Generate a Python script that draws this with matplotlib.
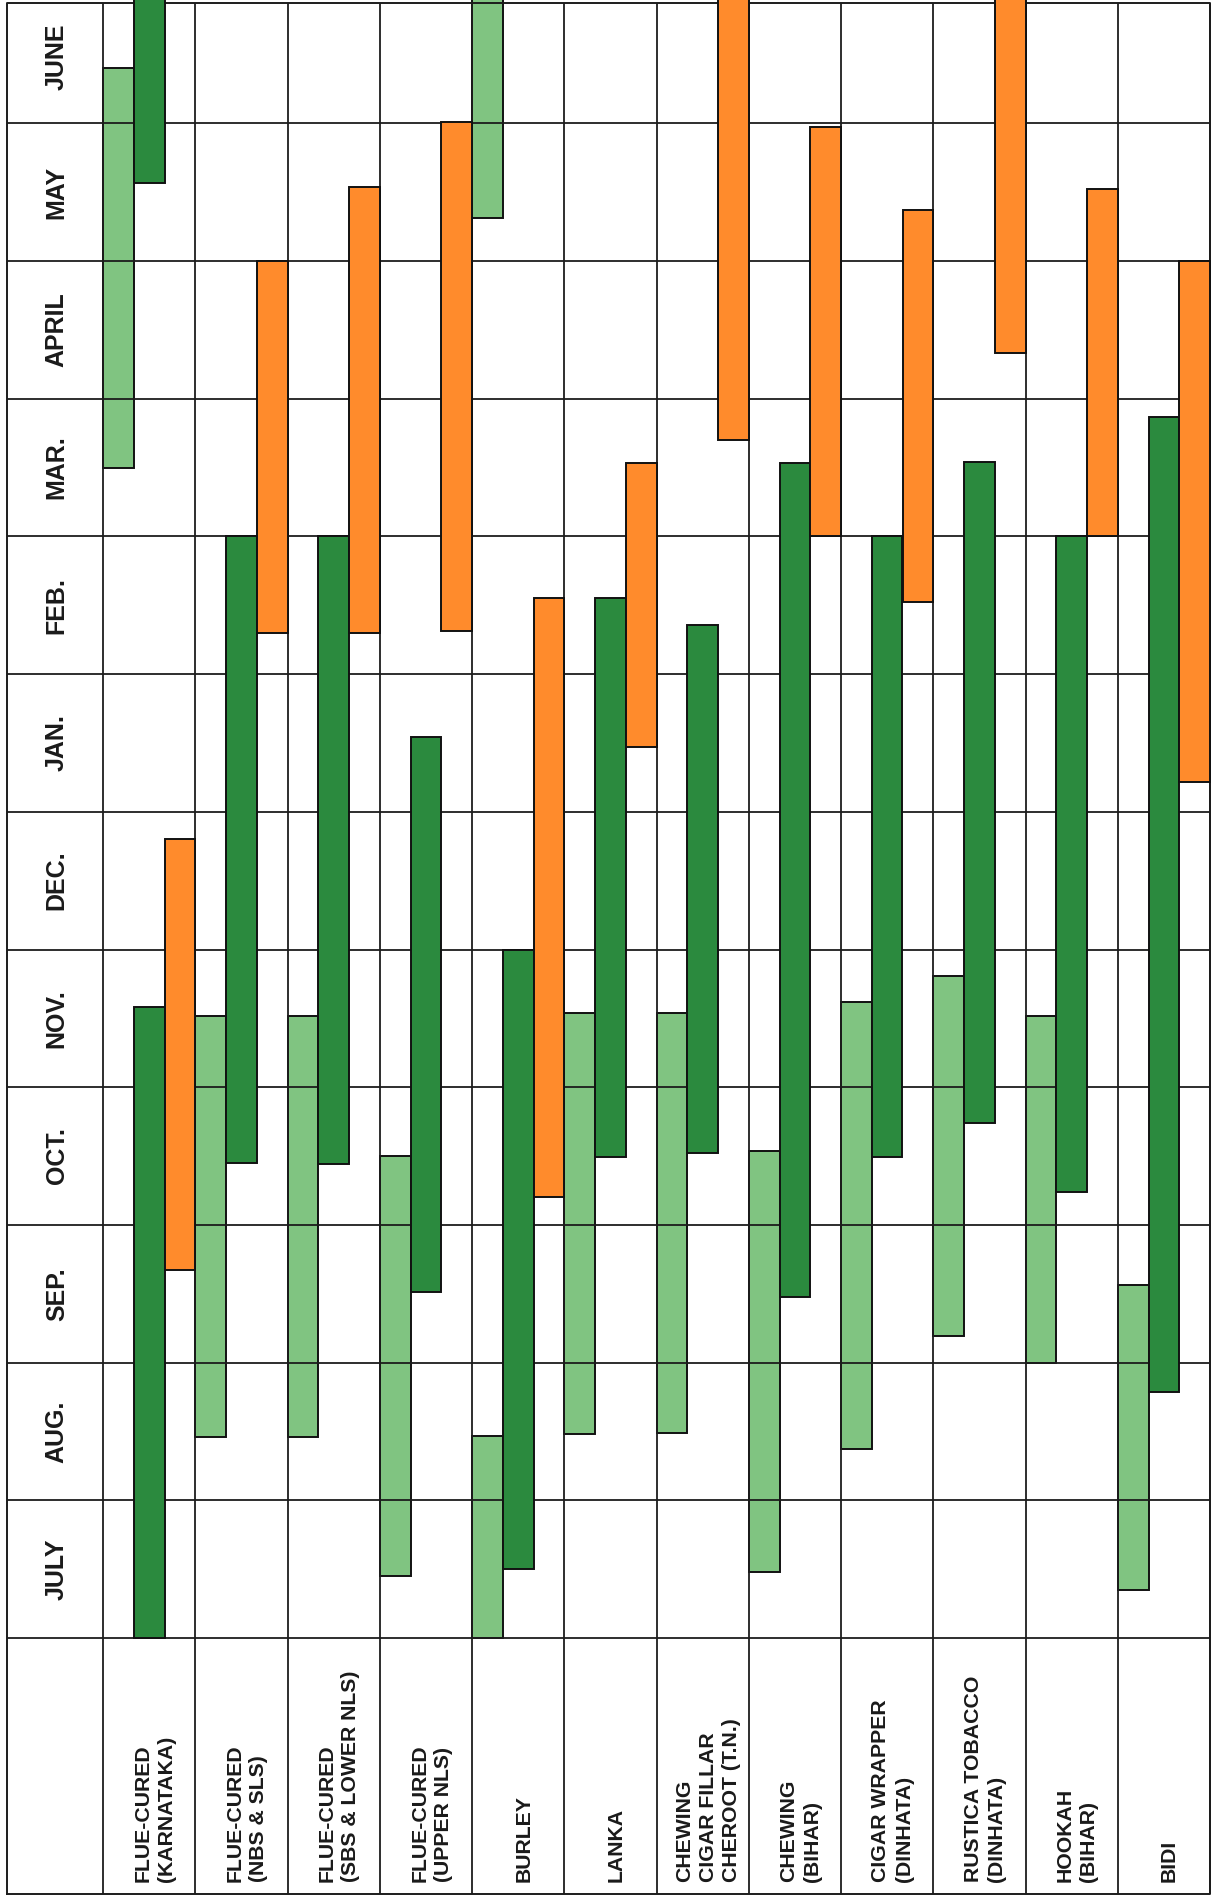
import matplotlib
matplotlib.use("Agg")
import matplotlib.pyplot as plt

# ---------------- data ----------------
# month axis: 0 = 1 July, 12 = 30 June (months counted from July)
months = ["JULY", "AUG.", "SEP.", "OCT.", "NOV.", "DEC.",
          "JAN.", "FEB.", "MAR.", "APRIL", "MAY", "JUNE"]

tobaccos = ["FLUE-CURED\n(KARNATAKA)",
            "FLUE-CURED\n(NBS & SLS)",
            "FLUE-CURED\n(SBS & LOWER NLS)",
            "FLUE-CURED\n(UPPER NLS)",
            "BURLEY",
            "LANKA",
            "CHEWING\nCIGAR FILLAR\nCHEROOT (T.N.)",
            "CHEWING\n(BIHAR)",
            "CIGAR WRAPPER\n(DINHATA)",
            "RUSTICA TOBACCO\n(DINHATA)",
            "HOOKAH\n(BIHAR)",
            "BIDI"]

# light green phase (start, end); end < start means it wraps past June
light_start = [8.50, 1.46, 1.46, 0.45, 10.31, 1.48, 1.49, 0.48, 1.37, 2.19, 2.00, 0.35]
light_end   = [11.40, 4.52, 4.52, 3.50, 1.47, 4.54, 4.54, 3.54, 4.62, 4.81, 4.52, 2.56]

# dark green phase
dark_start = [10.57, 3.45, 3.44, 2.51, 0.50, 3.49, 3.52, 2.48, 3.49, 3.74, 3.24, 1.79]
dark_end   = [4.58, 8.00, 8.00, 6.54, 5.00, 7.55, 7.36, 8.53, 8.00, 8.54, 8.00, 8.87]

# orange phase
orange_start = [2.67, 7.30, 7.30, 7.31, 3.20, 6.47, 8.70, 8.00, 7.52, 9.33, 8.00, 6.22]
orange_end   = [5.80, 10.00, 10.54, 11.01, 7.55, 8.53, 12.00, 10.97, 10.37, 12.00, 10.52, 10.00]

# ---------------- style ----------------
C_LIGHT = "#80C481"
C_DARK = "#2B8A3E"
C_ORANGE = "#FF8B2C"
C_LINE = "#1c1c1c"

plt.rcParams["font.family"] = ["Liberation Sans", "DejaVu Sans"]

W, H = 1214, 1904
fig = plt.figure(figsize=(W / 100, H / 100), dpi=100)
ax = fig.add_axes([0, 0, 1, 1])
ax.set_axis_off()

px_month = 137.7      # pixels per month
px_col = 92.25        # pixels per column
y0_px = 1638          # pixel row of 1 July
x0_px = 103           # pixel column of first tobacco column
ax.set_ylim(-(H - y0_px) / px_month, y0_px / px_month)
ax.set_xlim(-x0_px / px_col, (W - x0_px) / px_col)

n = len(tobaccos)
left_edge = -96 / px_col
right_edge = float(n)
bottom_edge = -(1894 - y0_px) / px_month
top_edge = (y0_px - 3) / px_month
label_base = -(1882 - y0_px) / px_month

# grid lines
ax.hlines(range(0, 12), left_edge, right_edge, color=C_LINE, lw=1.3, zorder=2)
ax.vlines(range(0, n + 1), bottom_edge, top_edge, color=C_LINE, lw=1.3, zorder=2)
# outer border
ax.plot([left_edge, right_edge, right_edge, left_edge, left_edge],
        [bottom_edge, bottom_edge, top_edge, top_edge, bottom_edge],
        color=C_LINE, lw=1.4, zorder=2, clip_on=False)


def draw_phase(starts, ends, slot, color, z):
    for i, (s, e) in enumerate(zip(starts, ends)):
        segs = [(s, e)] if e >= s else [(s, 12.0), (0.0, e)]
        for a, b in segs:
            ax.bar(i + (slot + 0.5) / 3, b - a, bottom=a, width=1 / 3,
                   color=color, edgecolor="#111111", linewidth=1.4, zorder=z)


draw_phase(light_start, light_end, 0, C_LIGHT, 1)
draw_phase(dark_start, dark_end, 1, C_DARK, 3)
draw_phase(orange_start, orange_end, 2, C_ORANGE, 3)

# month labels
for m, name in enumerate(months):
    lo, hi = m, min(m + 1, top_edge)
    ax.text(left_edge / 2 + 0.02, (lo + hi) / 2 + (0.05 if m == 11 else 0), name,
            rotation=90, ha="center", va="center", fontsize=18,
            fontweight="bold", color="#1a1a1a", zorder=4)

# tobacco labels
for i, name in enumerate(tobaccos):
    ax.text(i + 0.56, label_base, name, rotation=90, rotation_mode="anchor",
            ha="left", va="center", multialignment="left", fontsize=15.3,
            fontweight="bold", color="#1a1a1a", linespacing=1.3, zorder=4)

fig.savefig("out.png", dpi=100, facecolor="white")
